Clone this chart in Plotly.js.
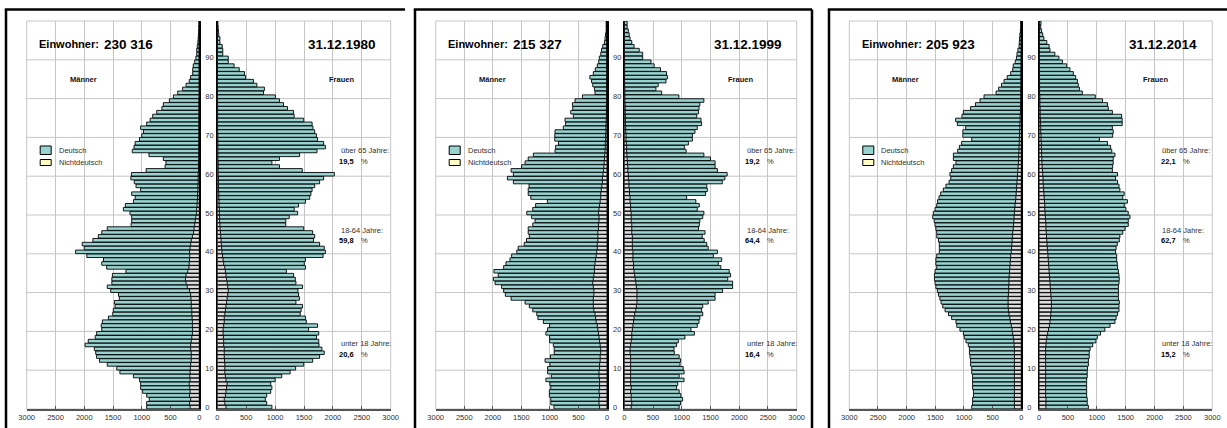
<!DOCTYPE html>
<html><head><meta charset="utf-8">
<script src="https://cdn.plot.ly/plotly-3.0.1.min.js"></script>
<style>html,body{margin:0;padding:0;background:#fff}#chart{width:1227px;height:428px}</style>
</head><body><div id="chart"></div>
<script>
// ---------- categories & labels ----------
const ages = []; for (let a = 0; a < 100; a++) ages.push(a);
const ageTicks = [0, 10, 20, 30, 40, 50, 60, 70, 80, 90];
const valueTicks = [0, 500, 1000, 1500, 2000, 2500, 3000];
const legendLabels = ['Deutsch', 'Nichtdeutsch'];
const sideLabels = ['Männer', 'Frauen'];
const groupLabels = ['über 65 Jahre:', '18-64 Jahre:', 'unter 18 Jahre:'];
const stichtag = ['31.12.1980', '31.12.1999', '31.12.2014'];
const einwohner = ['230 316', '215 327', '205 923'];
const anteilUeber65 = ['19,5', '19,2', '22,1'];
const anteil18bis64 = ['59,8', '64,4', '62,7'];
const anteilUnter18 = ['20,6', '16,4', '15,2'];

// ---------- 1980: total (Deutsch + Nichtdeutsch) and Nichtdeutsch by age 0..99 ----------
const maenner1980 = [
 915,915,870,915,985,1020,1020,1040,1145,1380,
 1435,1600,1735,1785,1800,1825,1985,1930,1810,1785,
 1695,1705,1685,1580,1505,1495,1465,1475,1390,1405,
 1540,1600,1520,1520,1510,1275,1610,1695,1665,1955,
 2150,2000,2035,1850,1755,1695,1600,1185,1175,1175,
 1205,1320,1285,1145,1115,1175,1020,1100,1130,1190,
 1180,925,595,580,625,875,1165,1135,1115,1040,
 1000,970,1020,915,855,810,740,650,625,520,
 450,375,290,230,175,150,115,115,105,80,
 60,45,45,35,25,20,15,10,8,5];
const maenner1980Nd = [
 160,170,150,170,160,165,175,160,165,160,
 155,150,140,140,140,150,150,140,130,120,
 115,120,120,125,130,130,140,140,145,150,
 170,210,230,240,230,200,180,175,170,165,
 170,160,150,140,120,100,90,80,70,60,
 50,45,40,35,30,30,25,25,20,20,
 20,15,15,15,10,10,10,10,10,10,
 5,5,5,5,5,5,5,5,5,5,
 0,0,0,0,0,0,0,0,0,0,
 0,0,0,0,0,0,0,0,0,0];
const frauen1980 = [
 945,855,830,855,925,945,925,1000,1115,1260,
 1355,1495,1650,1770,1850,1810,1760,1755,1715,1755,
 1580,1735,1540,1525,1435,1450,1475,1360,1420,1405,
 1395,1475,1360,1350,1320,1195,1525,1505,1525,1830,
 1870,1850,1770,1665,1685,1650,1495,1185,1185,1245,
 1390,1330,1405,1525,1600,1620,1640,1685,1770,1840,
 2025,1470,1075,945,1075,1425,1725,1870,1840,1735,
 1715,1685,1655,1640,1495,1330,1320,1215,1145,1075,
 1005,800,815,685,625,490,470,380,290,190,
 190,95,95,85,45,45,25,20,15,10];
const frauen1980Nd = [
 150,130,120,140,150,160,170,150,140,130,
 130,130,125,120,120,120,110,110,105,100,
 100,110,120,120,130,140,150,160,170,180,
 190,180,170,160,150,140,130,110,100,90,
 80,75,70,65,60,55,50,45,40,40,
 35,35,30,30,25,25,20,20,20,20,
 15,15,15,15,10,10,10,10,10,10,
 10,5,5,5,5,5,5,5,5,5,
 0,0,0,0,0,0,0,0,0,0,
 0,0,0,0,0,0,0,0,0,0];

// ---------- 1999 ----------
const maenner1999 = [
 930,985,985,1010,1010,985,1000,1070,975,1040,
 1040,1000,1085,990,925,925,940,1005,1005,1070,
 1040,1005,1115,1210,1230,1300,1360,1435,1680,1780,
 1810,1845,1960,1990,1905,1980,1810,1770,1700,1670,
 1580,1555,1450,1410,1360,1380,1380,1300,1260,1320,
 1405,1300,1250,1045,1335,1380,1380,1365,1640,1745,
 1640,1680,1495,1435,1380,1290,910,900,850,915,
 915,910,765,725,735,590,635,600,605,560,
 430,210,220,250,270,300,240,205,170,145,
 135,110,95,75,45,35,25,15,15,15];
const maenner1999Nd = [
 130,140,140,130,140,130,130,130,140,140,
 130,130,120,120,110,110,120,130,140,150,
 160,170,190,200,210,230,240,240,240,230,
 230,240,250,240,230,220,220,210,200,190,
 180,170,170,160,160,160,150,150,140,140,
 150,140,130,120,110,110,100,90,80,80,
 70,60,55,50,45,40,35,30,30,25,
 25,20,20,15,15,10,10,10,10,5,
 5,5,5,5,5,0,0,0,0,0,
 0,0,0,0,0,0,0,0,0,0];
const frauen1999 = [
 955,980,1015,985,955,910,930,1040,955,1040,
 1025,970,980,955,870,865,910,940,1055,1220,
 1160,1270,1300,1315,1365,1345,1365,1460,1580,1580,
 1710,1885,1885,1800,1850,1825,1680,1635,1695,1550,
 1620,1460,1435,1390,1355,1405,1290,1305,1315,1365,
 1385,1270,1305,1245,1085,1415,1445,1435,1705,1750,
 1790,1620,1580,1580,1500,1385,1075,1045,1115,1185,
 1185,1230,1270,1345,1335,1260,1290,1300,1315,1385,
 950,650,550,590,725,750,735,630,520,465,
 320,320,260,170,130,100,85,70,50,50];
const frauen1999Nd = [
 120,130,120,120,110,120,110,110,110,110,
 110,110,110,110,100,100,110,120,130,130,
 140,150,160,170,180,200,210,220,220,220,
 220,210,200,190,180,170,160,160,150,150,
 150,140,140,140,140,130,130,130,120,120,
 120,110,110,100,100,90,90,80,80,70,
 70,60,60,55,50,45,40,40,35,30,
 30,25,25,20,20,20,15,15,15,10,
 10,10,10,5,5,5,5,5,5,5,
 0,0,0,0,0,0,0,0,0,0];

// ---------- 2014 ----------
const maenner2014 = [
 865,850,850,835,835,850,850,850,850,865,
 865,885,885,895,905,905,925,965,995,1010,
 1070,1125,1140,1215,1270,1330,1370,1400,1420,1445,
 1465,1490,1505,1515,1515,1505,1475,1490,1490,1475,
 1430,1430,1430,1445,1475,1475,1490,1505,1520,1545,
 1535,1505,1475,1460,1435,1405,1360,1315,1260,1230,
 1245,1215,1185,1140,1185,1185,1110,1080,1040,865,
 1020,1020,970,1115,1145,1035,1010,885,800,720,
 650,440,395,345,300,245,185,150,140,105,
 85,75,60,40,35,30,25,15,10,10];
const maenner2014Nd = [
 120,120,120,120,120,120,120,120,120,120,
 120,120,120,120,120,120,125,130,140,150,
 160,175,190,200,215,225,230,230,230,225,
 220,220,215,215,210,205,200,195,190,185,
 175,170,165,160,155,150,140,135,130,125,
 120,115,110,100,95,90,85,80,75,70,
 65,60,55,50,45,45,40,40,35,35,
 30,30,25,25,20,20,15,15,15,10,
 10,10,10,5,5,5,5,5,0,0,
 0,0,0,0,0,0,0,0,0,0];
const frauen2014 = [
 855,835,835,825,825,825,825,825,835,835,
 840,855,855,870,870,885,930,985,1010,1065,
 1140,1230,1315,1335,1360,1385,1385,1390,1375,1375,
 1375,1375,1385,1390,1385,1375,1360,1355,1345,1345,
 1325,1335,1355,1390,1400,1450,1490,1545,1545,1575,
 1545,1505,1475,1530,1450,1475,1400,1385,1360,1325,
 1360,1270,1275,1285,1285,1315,1260,1240,1185,1045,
 1275,1285,1270,1440,1440,1430,1270,1200,1185,1100,
 975,750,700,680,665,635,595,535,480,405,
 345,275,190,175,135,85,65,45,30,35];
const frauen2014Nd = [
 120,120,120,115,115,115,115,115,115,115,
 115,115,115,115,115,115,120,125,135,150,
 165,180,190,200,205,210,215,215,210,205,
 200,195,190,185,180,175,170,165,160,155,
 150,145,140,135,130,125,120,120,115,110,
 105,100,100,95,90,85,80,75,70,70,
 65,60,55,50,50,45,45,40,40,35,
 35,30,30,25,25,20,20,20,15,15,
 15,10,10,10,5,5,5,5,5,5,
 0,0,0,0,0,0,0,0,0,0];

const panelData = [
  {men: maenner1980, menNd: maenner1980Nd, women: frauen1980, womenNd: frauen1980Nd},
  {men: maenner1999, menNd: maenner1999Nd, women: frauen1999, womenNd: frauen1999Nd},
  {men: maenner2014, menNd: maenner2014Nd, women: frauen2014, womenNd: frauen2014Nd}
];

// ---------- geometry (pixels) ----------
const W = 1227, H = 428;
const PLOT_TOP = 21, PLOT_BOT = 409;
const geo = [
  {menL: 26.7, men0: 199.3, wom0: 217.3, womR: 390.7, frameL: 6, frameR: null, topR: 405, frauenC: 341},
  {menL: 435.7, men0: 607, wom0: 624.3, womR: 796.7, frameL: 415, frameR: 812, topR: 812, frauenC: 740.8},
  {menL: 849.3, men0: 1021.3, wom0: 1039, womR: 1212.3, frameL: 829, frameR: null, topR: 1228, frauenC: 1155.8}
];
const FONT = 'Liberation Sans, Arial, Helvetica, sans-serif';
const TEAL = '#97D4D1', GREY = '#DEDEDE', YELLOW = '#FFFFC4', GRID = '#C6C6C6';
const px = x => x / W, py = y => 1 - y / H;

const traces = [];
const layout = {
  width: W, height: H, margin: {l: 0, r: 0, t: 0, b: 0},
  paper_bgcolor: '#fff', plot_bgcolor: '#fff', barmode: 'overlay', showlegend: false,
  font: {family: FONT, size: 7.5, color: '#333'},
  shapes: [], annotations: []
};

function ann(text, x, y, opts) {
  layout.annotations.push(Object.assign({
    text: text, xref: 'paper', yref: 'paper', x: px(x), y: py(y),
    xanchor: 'left', yanchor: 'middle', showarrow: false, borderpad: 0,
    font: {family: FONT, size: 7.5, color: '#333'}
  }, opts || {}));
}

const gridAges = [9.5, 19.5, 29.5, 39.5, 49.5, 59.5, 69.5, 79.5, 89.5];

geo.forEach((g, i) => {
  const d = panelData[i];
  const kM = 2 * i + 1, kW = 2 * i + 2;
  const xM = kM === 1 ? 'x' : 'x' + kM, yM = kM === 1 ? 'y' : 'y' + kM;
  const xW = 'x' + kW, yW = 'y' + kW;
  const xaxisCommon = {
    tickvals: valueTicks, ticktext: valueTicks.map(String),
    showgrid: true, gridcolor: GRID, gridwidth: 1, zeroline: false,
    showline: true, linecolor: '#555', linewidth: 1.5,
    ticks: 'inside', ticklen: 3, tickcolor: '#555', tickwidth: 1,
    tickfont: {family: FONT, size: 7.5, color: '#333'}, fixedrange: true
  };
  layout['xaxis' + (kM === 1 ? '' : kM)] = Object.assign({}, xaxisCommon, {
    domain: [px(g.menL), px(g.men0)], range: [3000, 0], anchor: yM
  });
  layout['xaxis' + kW] = Object.assign({}, xaxisCommon, {
    domain: [px(g.wom0), px(g.womR)], range: [0, 3000], anchor: yW
  });
  const yCommon = {
    domain: [py(PLOT_BOT), py(PLOT_TOP)], range: [-0.5, 99.5],
    showgrid: false, zeroline: false, showline: true, linecolor: '#000', linewidth: 1.5,
    ticks: '', fixedrange: true
  };
  layout['yaxis' + (kM === 1 ? '' : kM)] = Object.assign({}, yCommon, {
    anchor: xM, side: 'right', tickvals: ageTicks, ticktext: ageTicks.map(String),
    showticklabels: true, tickfont: {family: FONT, size: 7.5, color: '#333'}, ticklabelstandoff: 3
  });
  layout['yaxis' + kW] = Object.assign({}, yCommon, {anchor: xW, side: 'left', showticklabels: false});

  // frames & horizontal grid
  [[xM, yM], [xW, yW]].forEach(([xa, ya]) => {
    layout.shapes.push({type: 'rect', xref: xa + ' domain', yref: ya + ' domain', x0: 0, x1: 1, y0: 0, y1: 1,
      line: {color: GRID, width: 1}, layer: 'below'});
    gridAges.forEach(a => layout.shapes.push({type: 'line', xref: xa + ' domain', yref: ya, x0: 0, x1: 1, y0: a, y1: a,
      line: {color: GRID, width: 1}, layer: 'below'}));
  });

  // bars
  const bar = (vals, color, xa, ya) => ({
    type: 'bar', orientation: 'h', x: vals, y: ages, xaxis: xa, yaxis: ya, width: 0.92,
    marker: {color: color, line: {color: '#000', width: 0.9}}, hoverinfo: 'skip'
  });
  traces.push(bar(d.men, TEAL, xM, yM), bar(d.menNd, GREY, xM, yM));
  traces.push(bar(d.women, TEAL, xW, yW), bar(d.womenNd, GREY, xW, yW));

  // black panel frame
  const fl = {color: '#000', width: 2.5};
  layout.shapes.push({type: 'line', xref: 'paper', yref: 'paper', x0: px(g.frameL), x1: px(g.frameL), y0: py(9.5), y1: py(430), line: fl});
  layout.shapes.push({type: 'line', xref: 'paper', yref: 'paper', x0: px(g.frameL - 1.2), x1: px(g.topR), y0: py(9.5), y1: py(9.5), line: fl});
  if (g.frameR) layout.shapes.push({type: 'line', xref: 'paper', yref: 'paper', x0: px(g.frameR), x1: px(g.frameR), y0: py(9.5), y1: py(430), line: fl});

  // header texts
  ann('Einwohner:', g.menL + 11.5, 44, {font: {family: FONT, size: 11, color: '#000', weight: 'bold'}});
  ann(einwohner[i], g.menL + 76, 44, {font: {family: FONT, size: 13.5, color: '#000', weight: 'bold'}});
  ann(stichtag[i], g.womR - 14.2, 44, {xanchor: 'right', font: {family: FONT, size: 13.5, color: '#000', weight: 'bold'}});
  ann(sideLabels[0], g.menL + 56.5, 79, {xanchor: 'center', font: {family: FONT, size: 7.5, color: '#111', weight: 'bold'}});
  ann(sideLabels[1], g.frauenC, 79, {xanchor: 'center', font: {family: FONT, size: 7.5, color: '#111', weight: 'bold'}});

  // legend
  layout.shapes.push({type: 'rect', xref: 'paper', yref: 'paper', x0: px(g.menL + 13.5), x1: px(g.menL + 24.5),
    y0: py(154.5), y1: py(146), fillcolor: TEAL, line: {color: '#000', width: 1}});
  layout.shapes.push({type: 'rect', xref: 'paper', yref: 'paper', x0: px(g.menL + 13.5), x1: px(g.menL + 24.5),
    y0: py(165.5), y1: py(159.5), fillcolor: YELLOW, line: {color: '#000', width: 1}});
  ann(legendLabels[0], g.menL + 31, 150.3);
  ann(legendLabels[1], g.menL + 31, 162.3);

  // shares
  const shares = [anteilUeber65[i], anteil18bis64[i], anteilUnter18[i]];
  const ys = [[150.7, 161.5], [230, 240.5], [343.3, 354.3]];
  shares.forEach((s, j) => {
    ann(groupLabels[j], g.womR - 51, ys[j][0]);
    ann(s, g.womR - 52.5, ys[j][1], {font: {family: FONT, size: 7.5, color: '#000', weight: 'bold'}});
    ann('%', g.womR - 30.5, ys[j][1]);
  });
});

Plotly.newPlot('chart', traces, layout, {staticPlot: true, displayModeBar: false});
</script>
</body></html>
